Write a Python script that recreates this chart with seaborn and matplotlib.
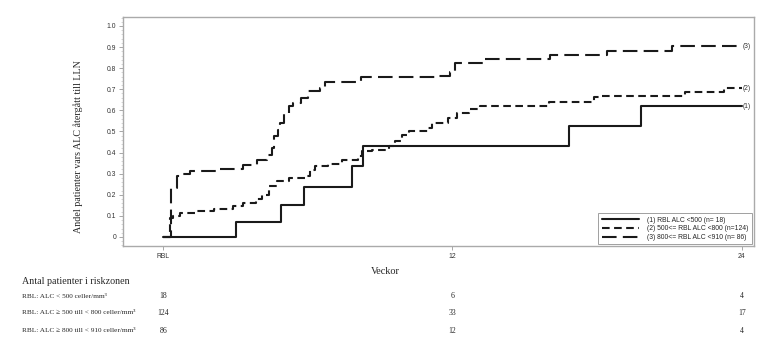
import matplotlib
matplotlib.use("Agg")
import matplotlib.pyplot as plt
import matplotlib.transforms as mtransforms
from matplotlib.ticker import MultipleLocator, FixedLocator
import seaborn as sns
import pandas as pd

# ---------------- data ----------------
weeks1 = [0, 3.03, 4.87, 5.85, 7.85, 8.3, 16.85, 19.83, 24.0]
prop1 = [0, 0.07, 0.153, 0.238, 0.335, 0.43, 0.524, 0.619, 0.619]

weeks2 = [0, 0.3, 0.4, 0.7, 1.4, 2.1, 2.9, 3.3, 3.85, 4.1, 4.4, 4.7, 5.2, 5.9, 6.1,
          6.3, 6.85, 7.4, 8.1, 8.25, 8.65, 9.35, 9.6, 9.9, 10.2, 11.0, 11.15, 11.8,
          12.2, 12.7, 13.15, 16.0, 17.85, 18.1, 21.65, 23.25, 24.0]
prop2 = [0, 0.09, 0.098, 0.114, 0.121, 0.133, 0.145, 0.161, 0.18, 0.2, 0.24, 0.264,
         0.28, 0.29, 0.319, 0.338, 0.346, 0.363, 0.382, 0.406, 0.414, 0.43, 0.453,
         0.485, 0.5, 0.517, 0.54, 0.564, 0.588, 0.607, 0.622, 0.638, 0.663, 0.67,
         0.685, 0.706, 0.706]

weeks3 = [0, 0.31, 0.56, 0.7, 1.1, 2.2, 3.3, 3.9, 4.3, 4.5, 4.6, 4.75, 4.85, 5.0,
          5.2, 5.4, 5.7, 6.0, 6.5, 6.7, 8.2, 11.35, 11.9, 12.1, 13.3, 16.05, 18.4,
          21.1, 24.0]
prop3 = [0, 0.232, 0.287, 0.30, 0.314, 0.324, 0.343, 0.366, 0.39, 0.42, 0.477,
         0.508, 0.54, 0.588, 0.619, 0.635, 0.659, 0.69, 0.706, 0.733, 0.757, 0.764,
         0.78, 0.825, 0.843, 0.864, 0.883, 0.903, 0.903]

legend_labels = ["(1) RBL ALC <500 (n= 18)",
                 "(2) 500<= RBL ALC <800 (n=124)",
                 "(3) 800<= RBL ALC <910 (n= 86)"]
end_labels = ["(1)", "(2)", "(3)"]

xtick_pos = [0, 12, 24]
xtick_labels = ["RBL", "12", "24"]
ytick_pos = [0, 0.1, 0.2, 0.3, 0.4, 0.5, 0.6, 0.7, 0.8, 0.9, 1.0]
ytick_labels = ["0", "0.1", "0.2", "0.3", "0.4", "0.5", "0.6", "0.7", "0.8", "0.9", "1.0"]

risk_rows = ["RBL: ALC < 500 celler/mm³",
             "RBL: ALC ≥ 500 till < 800 celler/mm³",
             "RBL: ALC ≥ 800 till < 910 celler/mm³"]
risk_times = [0, 12, 24]
risk_counts = [[18, 6, 4], [124, 33, 17], [86, 12, 4]]

# ---------------- figure ----------------
sns.set_style("white")
plt.rcParams["lines.scale_dashes"] = False
SERIF = ["Liberation Serif", "DejaVu Serif"]
SANS = ["Liberation Sans", "DejaVu Sans"]

fig = plt.figure(figsize=(7.7, 3.52), dpi=100)
ax = fig.add_axes([0.160, 0.301, 0.819, 0.651])

line_color = "#1a1a1a"
series = [(weeks1, prop1, None), (weeks2, prop2, (5.5, 3.2)), (weeks3, prop3, (10.5, 4.5))]
handles = []
for (w, p, dash) in series:
    df = pd.DataFrame({"Veckor": w, "Andel": p})
    sns.lineplot(data=df, x="Veckor", y="Andel", drawstyle="steps-post",
                 estimator=None, sort=False, color=line_color, lw=1.5, ax=ax)
    ln = ax.lines[-1]
    if dash is not None:
        ln.set_dashes(dash)
    handles.append(ln)

ax.set_xlim(-1.66, 24.5)
ax.set_ylim(-0.043, 1.043)
ax.xaxis.set_major_locator(FixedLocator(xtick_pos))
ax.set_xticklabels(xtick_labels, family=SANS, fontsize=4.9, color="#333333")
ax.yaxis.set_major_locator(FixedLocator(ytick_pos))
ax.set_yticklabels(ytick_labels, family=SANS, fontsize=4.9, color="#333333")
ax.yaxis.set_minor_locator(MultipleLocator(0.02))
ax.tick_params(axis="both", which="major", direction="out", length=3, width=0.6,
               color="#999999", pad=2, bottom=True, left=True)
ax.tick_params(axis="y", which="minor", direction="out", length=1.5, width=0.4,
               color="#bbbbbb", left=True)
for s in ax.spines.values():
    s.set_color("#aaaaaa")
    s.set_linewidth(1.0)

ax.set_xlabel("")
ax.set_ylabel("Andel patienter vars ALC återgått till LLN", family=SERIF, fontsize=7.2)
ax.yaxis.set_label_coords(-0.0635, 0.432)

# end labels
for (w, p, _), lab in zip(series, end_labels):
    ax.text(24.05, p[-1], lab, family=SANS, fontsize=4.8, color="#333333",
            va="center", ha="left")

leg = ax.legend(handles, legend_labels, loc="lower right", prop={"family": SANS, "size": 4.9},
                frameon=True, fancybox=False, edgecolor="#888888", handlelength=5.5,
                borderaxespad=0.25, labelspacing=0.25, handletextpad=1.2, borderpad=0.5)
leg.get_frame().set_linewidth(0.7)

# x label
fig.text(385 / 770, 1 - 272 / 352, "Veckor", family=SERIF, fontsize=7.4,
         ha="center", va="center")

# risk table
fig.text(22 / 770, 1 - 281 / 352, "Antal patienter i riskzonen", family=SERIF,
         fontsize=7.2, ha="left", va="center")
trans = mtransforms.blended_transform_factory(ax.transData, fig.transFigure)
row_y = [296, 313, 331]
for lab, counts, yy in zip(risk_rows, risk_counts, row_y):
    fig.text(22 / 770, 1 - yy / 352, lab, family=SERIF, fontsize=5.2,
             ha="left", va="center")
    for t, c in zip(risk_times, counts):
        ax.text(t, 1 - yy / 352, str(c), transform=trans, family=SERIF, fontsize=5.6,
                ha="center", va="center", clip_on=False)

fig.savefig("out.png", dpi=100, facecolor="white")
